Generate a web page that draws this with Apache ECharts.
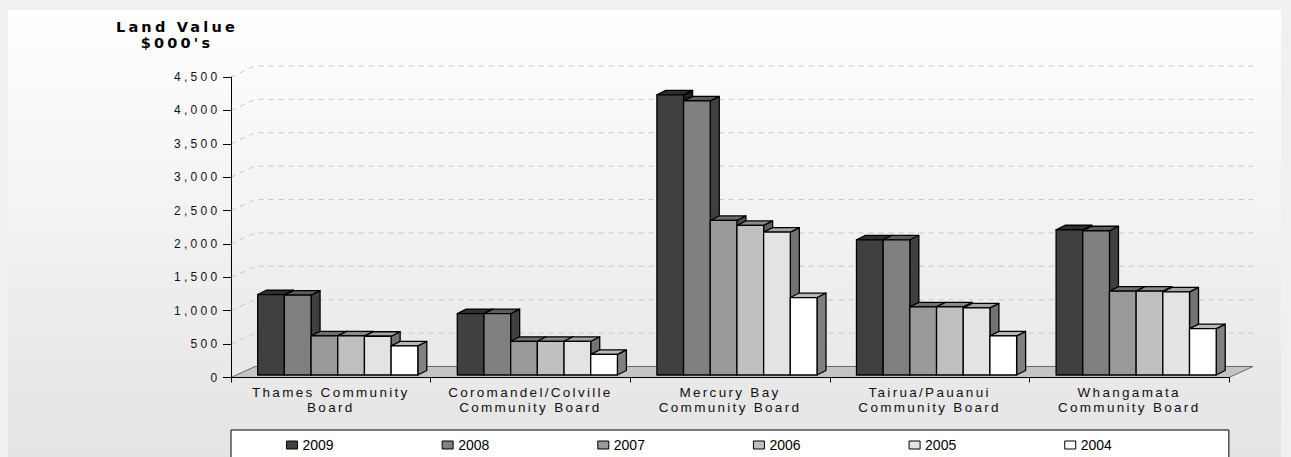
<!DOCTYPE html>
<html>
<head>
<meta charset="utf-8">
<script src="https://cdn.jsdelivr.net/npm/echarts@6/dist/echarts.min.js"></script>
<style>
html,body{margin:0;padding:0;background:#f0f0f0;}
#chart{width:1291px;height:457px;}
#chart text[style*="ylab"]{letter-spacing:3.3px;}
#chart text[style*="xlab"]{letter-spacing:2.3px;}
#chart text[style*="ttl"]{letter-spacing:3.2px;}
</style>
</head>
<body>
<div id="chart"></div>
<script>
// ---- data ----
const categories = [
  'Thames Community\nBoard',
  'Coromandel/Colville\nCommunity Board',
  'Mercury Bay\nCommunity Board',
  'Tairua/Pauanui\nCommunity Board',
  'Whangamata\nCommunity Board'
];
const years = ['2009', '2008', '2007', '2006', '2005', '2004'];
const v2009 = [1205, 920, 4195, 2025, 2175];
const v2008 = [1195, 920, 4105, 2025, 2160];
const v2007 = [585, 505, 2315, 1020, 1255];
const v2006 = [585, 505, 2240, 1020, 1255];
const v2005 = [580, 505, 2140, 1005, 1245];
const v2004 = [435, 310, 1160, 585, 695];
const yMax = 4500;
const yStep = 500;
const gridValues = [500, 1000, 1500, 2000, 2500, 3000, 3500, 4000, 4500];
const titleText = "Land Value\n$000's";

const seriesValues = [v2009, v2008, v2007, v2006, v2005, v2004];
const colors = ['#404040', '#808080', '#999999', '#c0c0c0', '#e3e3e3', '#ffffff'];

function shade(hex, f) {
  const n = parseInt(hex.slice(1), 16);
  const r = Math.round(((n >> 16) & 255) * f);
  const g = Math.round(((n >> 8) & 255) * f);
  const b = Math.round((n & 255) * f);
  return 'rgb(' + r + ',' + g + ',' + b + ')';
}

const DX = 24, DY = -11;   // back wall depth
const BDX = 9, BDY = -4.5; // bar depth
const LIFT = 2.5;

function barRender(si) {
  return function (params, api) {
    const ci = api.value(0), v = api.value(1);
    const base = api.coord([ci, 0]);
    const top = api.coord([ci, v]);
    const band = api.size([1, 0])[0];
    const w = band * 0.1337;
    const x = base[0] - band / 2 + (si + 1) * w;
    const y0 = base[1] - LIFT, y1 = top[1] - LIFT;
    const st = { stroke: '#000', lineWidth: 1.3, lineJoin: 'round' };
    return {
      type: 'group',
      children: [
        { type: 'polygon', shape: { points: [[x + w, y0], [x + w + BDX, y0 + BDY], [x + w + BDX, y1 + BDY], [x + w, y1]] },
          style: Object.assign({ fill: shade(colors[si], 0.5) }, st) },
        { type: 'polygon', shape: { points: [[x, y1], [x + BDX, y1 + BDY], [x + w + BDX, y1 + BDY], [x + w, y1]] },
          style: Object.assign({ fill: shade(colors[si], 0.72) }, st) },
        { type: 'rect', shape: { x: x, y: y1, width: w, height: y0 - y1 },
          style: Object.assign({ fill: colors[si] }, st) }
      ]
    };
  };
}

function gridRender(params, api) {
  const p = api.coord([0, api.value(1)]);
  const band = api.size([1, 0])[0];
  const xl = p[0] - band / 2;
  const xr = xl + band * categories.length;
  return {
    type: 'polyline',
    shape: { points: [[xl, p[1]], [xl + DX, p[1] + DY], [xr + DX, p[1] + DY]] },
    style: { stroke: '#c8c8c8', lineWidth: 1, lineDash: [5, 5], fill: null }
  };
}

function floorRender(params, api) {
  const p = api.coord([0, 0]);
  const band = api.size([1, 0])[0];
  const xl = p[0] - band / 2;
  const xr = xl + band * categories.length;
  return {
    type: 'polygon',
    shape: { points: [[xl, p[1]], [xl + DX, p[1] + DY], [xr + DX, p[1] + DY], [xr, p[1]]] },
    style: { fill: '#c4c4c4', stroke: '#6a6a6a', lineWidth: 1 }
  };
}

const series = [
  { type: 'custom', name: 'grid', renderItem: gridRender, data: gridValues.map(v => [0, v]), silent: true, z: 1, encode: { x: 0, y: 1 } },
  { type: 'custom', name: 'floor', renderItem: floorRender, data: [[0, 0]], silent: true, z: 1, encode: { x: 0, y: 1 } }
];
years.forEach((y, si) => {
  series.push({
    type: 'custom',
    name: y,
    renderItem: barRender(si),
    data: seriesValues[si].map((v, i) => [i, v]),
    encode: { x: 0, y: 1 },
    itemStyle: { color: colors[si] },
    z: 2
  });
});

const chart = echarts.init(document.getElementById('chart'), null, { renderer: 'svg' });
chart.setOption({
  backgroundColor: '#f0f0f0',
  animation: false,
  graphic: [
    { type: 'rect', z: -10, silent: true,
      shape: { x: 8, y: 10, width: 1273, height: 460 },
      style: { fill: { type: 'linear', x: 0, y: 0, x2: 0, y2: 1,
        colorStops: [{ offset: 0, color: '#ffffff' }, { offset: 0.1, color: '#fcfcfc' }, { offset: 1, color: '#e3e3e3' }] } } },
    { type: 'text', z: 10, x: 177, y: 19.5,
      style: { text: titleText, textAlign: 'center', textVerticalAlign: 'top',
        fontSize: 14.5, fontWeight: 'bold', fontFamily: 'DejaVu Sans, ttl', lineHeight: 15.5, fill: '#000' } }
  ],
  grid: { left: 231, top: 77, width: 998, bottom: 79.5 },
  xAxis: {
    type: 'category',
    data: categories,
    z: 5,
    axisLine: { show: true, lineStyle: { color: '#000', width: 1 } },
    axisTick: { show: true, interval: 0, length: 5, lineStyle: { color: '#000' } },
    axisLabel: { interval: 0, margin: 8, color: '#111', fontSize: 13.5, lineHeight: 14.5,
      fontFamily: 'Liberation Sans, xlab', align: 'center' },
    splitLine: { show: false }
  },
  yAxis: {
    type: 'value',
    min: 0, max: yMax, interval: yStep,
    z: 5,
    axisLine: { show: true, lineStyle: { color: '#000', width: 1 } },
    axisTick: { show: true, length: 8, lineStyle: { color: '#000' } },
    axisLabel: { margin: 10.5, color: '#111', fontSize: 12, fontFamily: 'Liberation Sans, ylab',
      formatter: v => v.toLocaleString('en-US') },
    splitLine: { show: false }
  },
  legend: {
    data: years,
    left: 231, top: 430,
    padding: [8, 117, 20, 55],
    itemGap: 108,
    itemWidth: 11, itemHeight: 8,
    icon: 'rect',
    selectedMode: false,
    backgroundColor: '#ffffff',
    borderColor: '#000', borderWidth: 1,
    itemStyle: { borderColor: '#000', borderWidth: 1 },
    textStyle: { fontSize: 14, color: '#000', fontFamily: 'Liberation Sans' }
  },
  series: series
});
</script>
</body>
</html>
